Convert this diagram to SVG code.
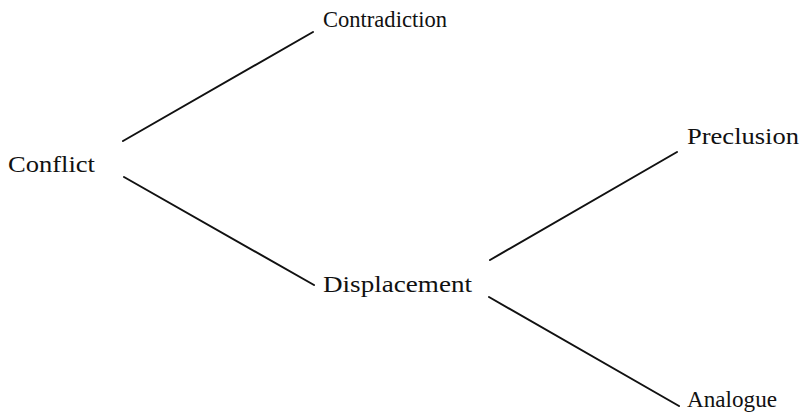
<svg xmlns="http://www.w3.org/2000/svg" width="802" height="417" viewBox="0 0 802 417">
<style>
.lbl{font-family:"Liberation Serif","Times New Roman",serif;font-size:24px;fill:#111}
.edge{stroke:#111;stroke-width:2;fill:none;stroke-linecap:round}
</style>
<rect width="802" height="417" fill="#fff"/>
<g id="connectors">
<line class="edge" x1="123" y1="141" x2="313" y2="32"/>
<line class="edge" x1="124" y1="177" x2="314" y2="285"/>
<line class="edge" x1="490" y1="260" x2="677" y2="152"/>
<line class="edge" x1="489" y1="297" x2="679" y2="406"/>
</g>
<g id="n-conflict"><text class="lbl" x="8" y="172" textLength="87" lengthAdjust="spacingAndGlyphs">Conflict</text></g>
<g id="n-contradiction"><text class="lbl" x="323" y="27" textLength="124" lengthAdjust="spacingAndGlyphs">Contradiction</text></g>
<g id="n-displacement"><text class="lbl" x="323" y="292" textLength="149" lengthAdjust="spacingAndGlyphs">Displacement</text></g>
<g id="n-preclusion"><text class="lbl" x="687" y="144" textLength="112" lengthAdjust="spacingAndGlyphs">Preclusion</text></g>
<g id="n-analogue"><text class="lbl" x="687" y="407" textLength="90" lengthAdjust="spacingAndGlyphs">Analogue</text></g>
</svg>
